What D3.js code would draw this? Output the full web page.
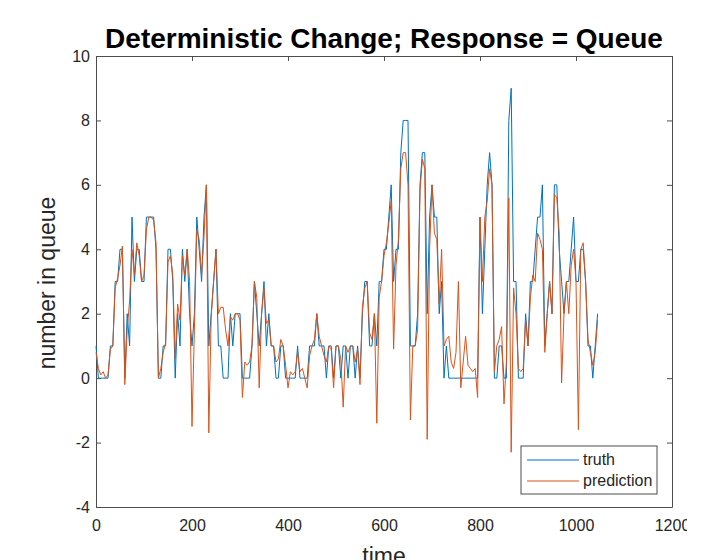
<!DOCTYPE html>
<html>
<head>
<meta charset="utf-8">
<script src="https://cdn.jsdelivr.net/npm/d3@7"></script>
<style>
  body { margin: 0; background: #ffffff; }
  text { font-family: "Liberation Sans", Arial, Helvetica, sans-serif; }
</style>
</head>
<body>
<div id="chart"></div>
<script>
// values, one sample every 5 time units (t = 0 .. 1045)
var time_step = 5;

var truth = [
  1,0,0,0,0,0,1,1,3,3,
  4,4,0,2,1,5,3,4,4,3,
  3,5,5,5,5,4,0,0,1,1,
  4,4,3,0,2,1,4,3,4,2,
  1,2,5,4,3,5,6,1,2,3,
  4,1,1,0,0,0,2,1,2,2,
  2,0,0,0,0,1,3,2,1,2,
  3,1,2,1,1,0,0,1,1,0,
  0,0,0,0,1,0,0,0,0,1,
  1,1,2,1,1,1,0,1,1,0,
  1,1,0,1,1,0,1,1,0,1,
  0,2,3,3,1,1,2,1,3,3,
  4,4,5,6,3,4,4,7,8,8,
  8,1,1,1,2,6,7,7,2,5,
  6,5,5,2,3,0,1,0,0,0,
  0,0,0,0,0,0,0,0,0,0,
  5,2,4,6,7,6,0,0,1,1,
  0,0,8,9,3,3,0,0,0,2,
  1,3,3,4,5,5,6,1,2,3,
  2,6,6,4,3,2,3,3,4,5,
  3,3,4,4,3,1,1,0,1,2
];

var prediction = [
  0.8,0.3,0.1,0.2,0,0.1,0.9,1,2.8,3.1,
  3.5,4.1,-0.2,1.5,2.4,4,3.2,4.2,3.8,3,
  3.2,4.6,5,5,4.9,4.2,0,0.3,0.8,1.1,
  3.6,3.8,3.2,0.6,2.3,1.8,3.8,3.2,4,3,
  -1.5,1.5,4.6,4.3,3.2,4.4,6,-1.7,1.9,3,
  4,2,2.2,2.2,1.5,1,1.9,1.8,2,2,
  1.8,-0.6,0.5,0.4,0.5,1,3,2.5,-0.3,2,
  2.8,1.7,1.8,1,1,0.5,0.6,1.2,1,0.4,
  -0.3,0.2,0.1,0.2,0.8,0.2,0.3,0,-0.3,0.7,
  1,1.2,2,1.3,1,0.7,0.5,1,0.9,-0.3,
  1,1,0.6,-0.9,1,0.8,1,1,0.5,0.9,
  -0.2,2.2,2.8,3,1.4,1.2,2,-1.4,2.5,3,
  3.8,4.2,4.8,5.5,0.9,3.5,4.3,6.5,7,7,
  6,-1.3,1,1,1.5,5.8,6.8,6.5,-1.9,4,
  6,4.5,4.3,2.3,4,1,1.2,1.3,0.5,0.3,
  0.8,3,-0.3,0.5,1.3,0.4,0.3,0.2,0.3,-0.6,
  5,3,5,5.5,6.5,6,0.2,1,1.2,1.6,
  -0.8,0.5,5.6,-2.3,2.8,2,0.3,0.2,0.3,1.8,
  1,2.5,3.2,3,4.5,4.3,4,0.8,2,3,
  2,5.7,5.6,4.5,-0.15,2,3,2,3.5,4,
  3,-1.6,4,4.2,3,1.2,0.8,0.4,0.8,1.8
];

var x_ticks = [0, 200, 400, 600, 800, 1000, 1200];
var y_ticks = [-4, -2, 0, 2, 4, 6, 8, 10];
var series_names = ['truth', 'prediction'];
var series_colors = ['#0072BD', '#D95319'];

var chart_width = 724;
var chart_height = 560;
var plot = {left: 96, right: 672, top: 56, bottom: 507};

// plain numbers, hyphen for the minus sign
var plain = function(d) {
  return String(d);
};

// Create SVG element
var svg = d3.select('#chart')
  .append('svg')
  .attr('width', chart_width)
  .attr('height', chart_height);

// the screenshot cuts the last x label a little
svg.append('defs')
  .append('clipPath')
  .attr('id', 'edge')
  .append('rect')
  .attr('x', 0)
  .attr('y', 0)
  .attr('width', 687)
  .attr('height', chart_height);

// Create scales
var x_scale = d3.scaleLinear()
  .domain([0, 1200])
  .range([plot.left, plot.right]);

var y_scale = d3.scaleLinear()
  .domain([-4, 10])
  .range([plot.bottom, plot.top]);

// Axes (ticks point inward, like matlab)
svg.append('g')
  .attr('transform', 'translate(0,' + plot.bottom + ')')
  .attr('clip-path', 'url(#edge)')
  .call(d3.axisBottom(x_scale).tickValues(x_ticks).tickSize(-5).tickSizeOuter(0).tickPadding(13).tickFormat(plain));

svg.append('g')
  .attr('transform', 'translate(' + plot.left + ',0)')
  .call(d3.axisLeft(y_scale).tickValues(y_ticks).tickSize(-5).tickSizeOuter(0).tickPadding(6).tickFormat(plain));

svg.append('g')
  .attr('transform', 'translate(0,' + plot.top + ')')
  .call(d3.axisTop(x_scale).tickValues(x_ticks).tickSize(-5).tickSizeOuter(0).tickFormat(''));

svg.append('g')
  .attr('transform', 'translate(' + plot.right + ',0)')
  .call(d3.axisRight(y_scale).tickValues(y_ticks).tickSize(-5).tickSizeOuter(0).tickFormat(''));

svg.selectAll('.domain, .tick line')
  .attr('stroke', '#4d4d4d')
  .attr('stroke-width', 1);

svg.selectAll('.tick text')
  .attr('fill', '#262626')
  .style('font-size', '16px');

// Lines
var line = d3.line()
  .x(function(d, i) {
    return x_scale(i * time_step);
  })
  .y(function(d) {
    return y_scale(d);
  });

[truth, prediction].forEach(function(s, i) {
  svg.append('path')
    .datum(s)
    .attr('d', line)
    .attr('fill', 'none')
    .attr('stroke', series_colors[i])
    .attr('stroke-width', 1)
    .attr('stroke-linejoin', 'round');
});

// Title and labels
svg.append('text')
  .text('Deterministic Change; Response = Queue')
  .attr('x', (plot.left + plot.right) / 2)
  .attr('y', 48)
  .attr('text-anchor', 'middle')
  .attr('font-weight', 'bold')
  .attr('fill', '#000')
  .style('font-size', '28px');

svg.append('text')
  .text('number in queue')
  .attr('transform', 'translate(55,283) rotate(-90)')
  .attr('text-anchor', 'middle')
  .attr('fill', '#262626')
  .style('font-size', '23px');

svg.append('text')
  .text('time')
  .attr('x', (plot.left + plot.right) / 2)
  .attr('y', 564)
  .attr('text-anchor', 'middle')
  .attr('fill', '#262626')
  .style('font-size', '23px');

// Legend
var legend = svg.append('g')
  .attr('transform', 'translate(521,446)');

legend.append('rect')
  .attr('width', 136)
  .attr('height', 48)
  .attr('fill', '#fff')
  .attr('stroke', '#4d4d4d')
  .attr('stroke-width', 1);

series_names.forEach(function(name, i) {
  legend.append('line')
    .attr('x1', 6)
    .attr('x2', 58)
    .attr('y1', 14 + i * 21)
    .attr('y2', 14 + i * 21)
    .attr('stroke', series_colors[i])
    .attr('stroke-width', 1);
  legend.append('text')
    .text(name)
    .attr('x', 62)
    .attr('y', 19 + i * 21)
    .attr('fill', '#262626')
    .style('font-size', '16px');
});
</script>
</body>
</html>
